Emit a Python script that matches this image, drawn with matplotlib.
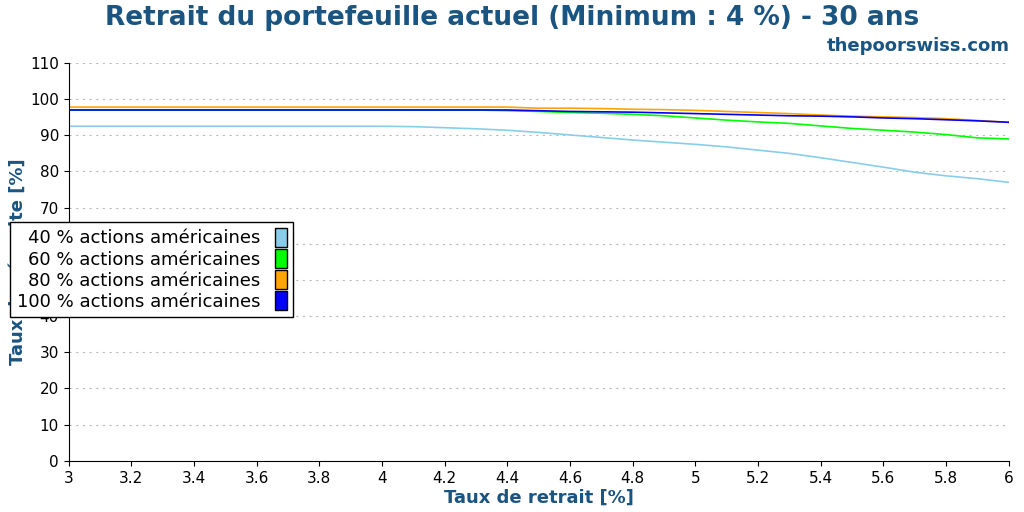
import matplotlib
matplotlib.use("Agg")
import matplotlib.pyplot as plt
import matplotlib.patches as mpatches
import numpy as np

x = [3.0,3.2,3.4,3.6,3.8,4.0,4.1,4.2,4.3,4.4,4.5,4.6,4.7,4.8,4.9,5.0,5.1,5.2,5.3,5.4,5.5,5.6,5.7,5.8,5.9,6.0]
s40 = [92.5,92.5,92.5,92.5,92.5,92.5,92.4,92.1,91.8,91.4,90.8,90.1,89.4,88.7,88.1,87.5,86.8,85.9,85.0,83.8,82.5,81.2,79.8,78.8,78.0,77.0]
s60 = [97.0,97.0,97.0,97.0,97.0,97.0,97.0,97.0,97.0,96.8,96.6,96.3,96.1,95.8,95.4,94.8,94.2,93.7,93.3,92.6,91.9,91.4,90.9,90.2,89.3,89.0]
s80 = [97.8,97.8,97.8,97.8,97.8,97.8,97.8,97.8,97.8,97.8,97.5,97.5,97.4,97.2,97.1,96.9,96.6,96.3,96.0,95.6,95.3,95.1,94.9,94.6,94.1,93.6]
s100 = [97.0,97.0,97.0,97.0,97.0,97.0,97.0,97.0,97.0,97.0,96.8,96.6,96.5,96.4,96.2,96.0,95.8,95.6,95.4,95.3,95.1,94.8,94.6,94.3,94.0,93.6]
labels = ["40 % actions américaines","60 % actions américaines","80 % actions américaines","100 % actions américaines"]
colors = ["#87ceeb","#00ff00","#ffa500","#0000ff"]

fig = plt.figure(figsize=(10.24,5.12), dpi=100)
ax = fig.add_axes([0.067,0.1,0.918,0.777])
for s,c in zip([s40,s60,s80,s100],colors):
    ax.plot(x,s,color=c,lw=1.2)
ax.set_xlim(3,6); ax.set_ylim(0,110)
ax.set_xticks(np.arange(3,6.01,0.2))
ax.set_xticklabels(["3","3.2","3.4","3.6","3.8","4","4.2","4.4","4.6","4.8","5","5.2","5.4","5.6","5.8","6"])
ax.set_yticks(range(0,111,10))
ax.grid(axis="y",linestyle=(0,(2,4)),color="#bbbbbb")
for sp in ["top","right"]:
    ax.spines[sp].set_visible(False)
ax.tick_params(labelsize=11)
tc="#1a5480"
ax.set_xlabel("Taux de retrait [%]",fontsize=13,fontweight="bold",color=tc,labelpad=2)
ax.set_ylabel("Taux de réussite [%]",fontsize=13,fontweight="bold",color=tc,labelpad=2)
fig.text(0.5,0.965,"Retrait du portefeuille actuel (Minimum : 4 %) - 30 ans",ha="center",va="center",fontsize=19,fontweight="bold",color=tc)
fig.text(0.986,0.91,"thepoorswiss.com",ha="right",va="center",fontsize=13,fontweight="bold",color=tc)
handles=[mpatches.Patch(facecolor=c,edgecolor="black") for c in colors]
leg=fig.legend(handles,labels,loc="upper left",bbox_to_anchor=(0.01,0.567),markerfirst=False,fontsize=13,
           fancybox=False,edgecolor="black",framealpha=1,handlelength=0.7,handleheight=1.2,labelspacing=0.1,borderaxespad=0,borderpad=0.35)
for t in leg.get_texts(): t.set_ha("right")
fig.savefig("out.png",dpi=100)
